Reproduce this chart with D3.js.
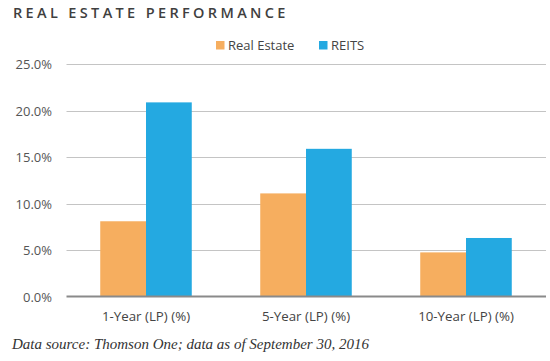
<!DOCTYPE html>
<html><head><meta charset="utf-8">
<script src="https://cdn.jsdelivr.net/npm/d3@7"></script>
<style>body{margin:0;background:#fff;}svg{display:block;}</style>
</head><body>
<svg id="c" width="550" height="361"></svg>
<script>
const categories = ["1-Year (LP) (%)", "5-Year (LP) (%)", "10-Year (LP) (%)"];
const seriesNames = ["Real Estate", "REITS"];
const realEstate = [8.1, 11.1, 4.75];
const reits = [20.9, 15.9, 6.3];
const yTicks = [0, 5, 10, 15, 20, 25];
const colors = ["#F6AE5F", "#24A9E1"];

const svg = d3.select("#c");
const font = "'Open Sans', 'Noto Sans', sans-serif";
const x0 = d3.scaleBand().domain(categories).range([66, 546]).paddingInner(0.428).paddingOuter(0.214);
const x1 = d3.scaleBand().domain(seriesNames).range([0, x0.bandwidth()]);
const y = d3.scaleLinear().domain([0, 25]).range([296.5, 64.3]);

// title
svg.append("text").attr("x", 13).attr("y", 17.5).text("REAL ESTATE PERFORMANCE")
  .attr("font-family", font).attr("font-size", 14.5).attr("font-weight", 600)
  .attr("letter-spacing", 3.35).attr("fill", "#3f3f3f");

// gridlines + y labels
const yAxis = d3.axisLeft(y).tickValues(yTicks).tickFormat(d => d.toFixed(1) + "%").tickSize(0).tickPadding(0);
const ga = svg.append("g").attr("transform", "translate(52,0)").call(yAxis);
ga.select(".domain").remove();
ga.selectAll("text").attr("font-family", font).attr("font-size", 13).attr("fill", "#555").attr("dy", "0.35em");
svg.append("g").selectAll("line").data(yTicks.filter(d => d > 0)).join("line")
  .attr("x1", 66.5).attr("x2", 546).attr("y1", d => Math.round(y(d)) + 0.5).attr("y2", d => Math.round(y(d)) + 0.5)
  .attr("stroke", "#c4c4c4").attr("stroke-width", 1);

// bars
const data = categories.map((c, i) => ({cat: c, vals: [realEstate[i], reits[i]]}));
svg.append("g").selectAll("g").data(data).join("g")
  .attr("transform", d => `translate(${x0(d.cat)},0)`)
  .selectAll("rect").data(d => d.vals.map((v, j) => ({name: seriesNames[j], v, j}))).join("rect")
  .attr("x", d => x1(d.name)).attr("width", x1.bandwidth())
  .attr("y", d => y(d.v)).attr("height", d => y(0) - y(d.v))
  .attr("fill", d => colors[d.j]);

// baseline
svg.append("line").attr("x1", 66.5).attr("x2", 546).attr("y1", y(0)).attr("y2", y(0))
  .attr("stroke", "#8a8a8a").attr("stroke-width", 2);

// x labels
const xAxis = d3.axisBottom(x0).tickSize(0).tickPadding(0);
const gx = svg.append("g").attr("transform", "translate(0,316.5)").call(xAxis);
gx.select(".domain").remove();
gx.selectAll("text").attr("font-family", font).attr("font-size", 13.3).attr("fill", "#444").attr("dy", "0.35em");

// legend
const legX = [216, 319];
seriesNames.forEach((n, i) => {
  svg.append("rect").attr("x", legX[i]).attr("y", 41).attr("width", 8.5).attr("height", 8.5).attr("fill", colors[i]);
  svg.append("text").attr("x", legX[i] + 12).attr("y", 50).text(n)
    .attr("font-family", font).attr("font-size", 13).attr("fill", "#444");
});

// source
svg.append("text").attr("x", 12).attr("y", 348.5).text("Data source: Thomson One; data as of September 30, 2016")
  .attr("font-family", "'Liberation Serif', 'DejaVu Serif', serif").attr("font-style", "italic")
  .attr("font-size", 15).attr("fill", "#333");
</script>
</body></html>
